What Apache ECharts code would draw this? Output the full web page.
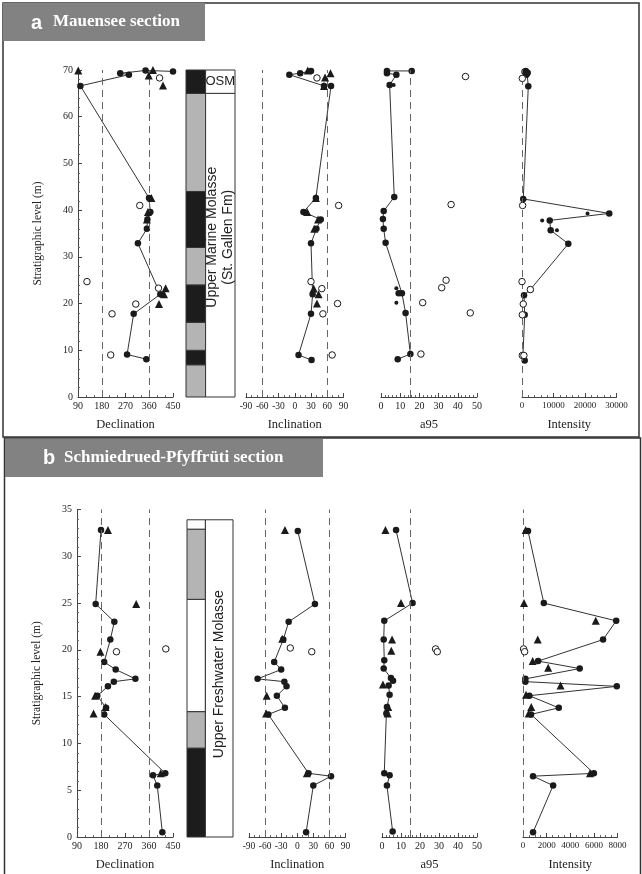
<!DOCTYPE html>
<html><head><meta charset="utf-8">
<script src="https://cdn.jsdelivr.net/npm/echarts@6/dist/echarts.min.js"></script>
<style>html,body{margin:0;padding:0;background:#fff}#c{width:642px;height:874px}</style>
</head><body><div id="c"></div><script>
// ---------- Panel a : Mauensee section ----------
const aDecLine = [[349,8.1],[276,9.1],[301,17.8],[402,22.0],[317,32.9],[351,36.0],[353,38.0],[364,39.6],[359,42.6],[99,66.6],[283,69.0],[250,69.3],[346,69.9],[450,69.7]];
const aDecTri = [[91,69.9],[374,70.0],[358,68.8],[412,66.7],[368,42.6],[355,39.6],[351,38.0],[422,23.3],[416,22.0],[397,19.9]];
const aDecOpen = [[399,68.3],[324,41.0],[124,24.7],[395,23.3],[309,19.9],[219,17.8],[214,9.0]];

const aIncLine = [[31,7.9],[7,9.0],[30,17.8],[33,22.0],[30,32.9],[40,36.0],[48,38.0],[16,39.6],[39,42.6],[67,66.6],[54,66.6],[-10,69.0],[10,69.3],[30,69.8]];
const aIncTri = [[35,23.2],[44,22.0],[41,20.0],[36,36.0],[43,38.0],[23,39.6],[39,42.6],[54,66.6],[66,69.3],[56,68.4],[24,69.9]];
const aIncOpen = [[41,68.3],[81,41.0],[30,24.7],[50,23.2],[79,20.0],[52,17.8],[69,9.0]];

const aA95Line = [[8.7,8.1],[15.3,9.2],[12.8,18.0],[10.9,22.2],[2.4,33.0],[1.4,36.0],[1.0,38.1],[1.4,39.8],[6.9,42.8],[4.5,66.8],[8.0,69.0],[3.1,69.3],[3.1,69.8],[16.0,69.8]];
const aA95Extra = [[9.2,22.2]];
const aA95Small = [[8.0,23.3],[8.0,20.2],[6.6,66.8]];
const aA95Open = [[44,68.6],[36.5,41.2],[33.9,25.0],[31.6,23.4],[21.7,20.2],[46.5,18.0],[20.8,9.2]];

const aIntLine = [[850,7.8],[300,8.9],[850,17.6],[640,21.8],[2650,23.0],[14700,32.8],[9100,35.7],[8800,37.8],[27700,39.3],[400,42.4],[2000,66.5],[1600,69.3],[1200,69.8]];
const aIntExtra = [[800,69.6],[1400,69.0],[1800,69.4]];
const aIntSmall = [[20800,39.3],[6400,37.8],[11100,35.7]];
const aIntOpen = [[2650,23.0],[0,24.7],[200,41.0],[400,19.9],[100,17.6],[100,8.9],[600,8.9],[100,68.2]];

const aColEdges = [0,6.9,10,16,24,32,44,65,70];
const aColFill = ['g','k','g','k','g','k','g','k'];
const aBoxEdges = [0,65,70];

// ---------- Panel b : Schmiedrued-Pfyffrüti section ----------
const bDecLine = [[410,0.5],[391,5.5],[375,6.6],[421,6.8],[192,13.1],[199,13.8],[166,15.1],[206,16.1],[228,16.6],[309,16.9],[235,17.9],[192,18.7],[215,21.1],[230,23.0],[160,24.9],[180,32.8]];
const bDecTri = [[206,32.8],[312,24.9],[178,19.8],[158,15.1],[152,13.2],[404,6.8],[197,13.9]];
const bDecOpen = [[238,19.8],[423,20.1]];

const bIncLine = [[16.5,0.5],[30,5.5],[63,6.5],[21,6.8],[-54,13.1],[-23,13.8],[-38,15.1],[-20,16.1],[-24,16.6],[-74,16.9],[-30,17.9],[-43,18.7],[-26,21.1],[-16,23.0],[33,24.9],[1,32.7]];
const bIncTri = [[-23,32.8],[-58,13.2],[-57,15.1],[18,6.8],[-28,21.2]];
const bIncOpen = [[-13,20.2],[27,19.8]];

const bA95Line = [[5.6,0.6],[2.6,5.5],[4.0,6.6],[1.2,6.8],[2.3,13.2],[2.6,13.9],[4.0,15.2],[3.5,16.2],[5.8,16.7],[4.7,17.0],[0.9,18.0],[1.2,18.9],[0.9,21.1],[1.2,23.1],[16.1,25.0],[7.4,32.8]];
const bA95Tri = [[1.8,32.8],[10.0,25.0],[5.3,21.1],[4.9,19.9],[0.5,16.3],[3.3,13.9],[3.0,13.2]];
const bA95Open = [[28.2,20.1],[29.1,19.8]];

const bIntLine = [[850,0.5],[2550,5.5],[850,6.5],[6000,6.8],[680,13.1],[3030,13.8],[540,15.1],[7940,16.1],[200,16.6],[200,16.9],[4800,18.0],[1280,18.8],[6780,21.1],[7890,23.1],[1760,25.0],[425,32.7]];
const bIntTri = [[5670,6.8],[480,13.2],[700,13.9],[255,15.2],[3180,16.2],[2130,18.1],[820,18.8],[1250,21.1],[6160,23.1],[85,25.0],[230,32.8]];
const bIntOpen = [[50,20.1],[140,19.8]];

const bColEdges = [0,9.5,13.4,25.4,32.9,33.9];
const bColFill = ['k','g','w','g','w'];
const bBoxEdges = [0,33.9];

// tick / reference values
const decTicks = {min:90,max:450,interval:90}, decRef = [180,360];
const incTicks = {min:-90,max:90,interval:30}, incRef = [-60,60];
const a95Ticks = {min:0,max:50,interval:10}, a95Ref = [15];
const aIntTicks = {min:0,max:30000,interval:10000}, bIntTicks = {min:0,max:8000,interval:2000}, intRef = [0];
const aLevel = {min:0,max:70,interval:10}, bLevel = {min:0,max:35,interval:5};

// ---------- chart ----------
const SERIF = 'Liberation Serif', SANS = 'Liberation Sans';
const INK = '#1a1a1a';
const grids = [
  {left:78, top:70, width:95, height:327},    //0 a dec
  {left:186, top:70, width:49, height:327},   //1 a col
  {left:246, top:70, width:97.5, height:327}, //2 a inc
  {left:381, top:70, width:96, height:327},   //3 a a95
  {left:522, top:70, width:94.5, height:327}, //4 a int
  {left:77, top:509.5, width:96, height:327.5},   //5 b dec
  {left:187, top:509.5, width:46, height:327.5},  //6 b col
  {left:249, top:509.5, width:96.5, height:327.5},//7 b inc
  {left:382, top:509.5, width:95, height:327.5},  //8 b a95
  {left:523, top:509.5, width:94.5, height:327.5} //9 b int
];
function xAx(gi, t, minor, name, fs){
  return {gridIndex:gi, type:'value', min:t.min, max:t.max, interval:t.interval,
    name:name, nameLocation:'middle', nameGap:21,
    nameTextStyle:{fontFamily:SERIF,fontSize:12.5,color:'#222'},
    axisLine:{show:true,onZero:false,lineStyle:{color:'#444',width:1}},
    axisTick:{show:true,inside:true,length:4,lineStyle:{color:'#444'}},
    minorTick:{show:true,splitNumber:minor,length:2,lineStyle:{color:'#666'}},
    axisLabel:{fontFamily:SERIF,fontSize:fs||10,color:'#222',margin:4,showMinLabel:true,showMaxLabel:true,hideOverlap:false,
      formatter:function(v){return String(v);}},
    splitLine:{show:false}};
}
function hiddenX(gi){return {gridIndex:gi,type:'value',min:0,max:1,show:false};}
function yAx(gi, t, visible){
  return {gridIndex:gi, type:'value', min:t.min, max:t.max, interval:t.interval, show:visible,
    name: visible ? 'Stratigraphic level (m)' : '', nameLocation:'middle', nameGap:34,
    nameTextStyle:{fontFamily:SERIF,fontSize:11.5,color:'#222'},
    axisLine:{show:true,onZero:false,lineStyle:{color:'#444'}},
    axisTick:{show:true,inside:true,length:4,lineStyle:{color:'#444'}},
    minorTick:{show:true,splitNumber:5,length:2,lineStyle:{color:'#666'}},
    axisLabel:{fontFamily:SERIF,fontSize:10,color:'#222',margin:5},
    splitLine:{show:false}};
}
const xAxis = [
  xAx(0,decTicks,3,'Declination'), hiddenX(1), xAx(2,incTicks,3,'Inclination',9.5), xAx(3,a95Ticks,5,'a95'), xAx(4,aIntTicks,5,'Intensity',9),
  xAx(5,decTicks,3,'Declination'), hiddenX(6), xAx(7,incTicks,3,'Inclination',9.5), xAx(8,a95Ticks,5,'a95'), xAx(9,bIntTicks,4,'Intensity',9)
];
const yAxis = [];
for (let i=0;i<10;i++){ yAxis.push(yAx(i, i<5?aLevel:bLevel, i===0||i===5)); }

const series = [];
function dashed(vals){
  return {silent:true, symbol:'none', label:{show:false},
    lineStyle:{type:[7,5],color:'#666',width:1}, data: vals.map(v=>({xAxis:v}))};
}
function sc(gi, data, symbol, size, style, z){
  return {type:'scatter', xAxisIndex:gi, yAxisIndex:gi, data, symbol, symbolSize:size,
    itemStyle:Object.assign({opacity:1}, style), z, silent:true};
}
function addPanel(gi, line, tri, open, small, extra, refs){
  series.push({type:'line', xAxisIndex:gi, yAxisIndex:gi, data:line, symbol:'circle', symbolSize:6.5,
    showAllSymbol:true, itemStyle:{color:INK, opacity:1}, lineStyle:{color:'#333',width:1}, z:3, silent:true,
    markLine: dashed(refs)});
  if (extra && extra.length) series.push(sc(gi, extra, 'circle', 6.5, {color:INK}, 4));
  if (tri && tri.length) series.push(sc(gi, tri, 'triangle', 8, {color:INK}, 5));
  if (small && small.length) series.push(sc(gi, small, 'circle', 4, {color:INK}, 5));
  if (open && open.length) series.push(sc(gi, open, 'circle', 6.5, {color:'#fff',borderColor:INK,borderWidth:1}, 6));
}
addPanel(0, aDecLine, aDecTri, aDecOpen, [], [], decRef);
addPanel(2, aIncLine, aIncTri, aIncOpen, [], [], incRef);
addPanel(3, aA95Line, [], aA95Open, aA95Small, aA95Extra, a95Ref);
addPanel(4, aIntLine, [], aIntOpen, aIntSmall, aIntExtra, intRef);
addPanel(5, bDecLine, bDecTri, bDecOpen, [], [], decRef);
addPanel(7, bIncLine, bIncTri, bIncOpen, [], [], incRef);
addPanel(8, bA95Line, bA95Tri, bA95Open, [], [], a95Ref);
addPanel(9, bIntLine, bIntTri, bIntOpen, [], [], intRef);

// stratigraphic columns
const FILL = {k:'#1c1c1c', g:'#b4b4b4', w:'#ffffff'};
function colData(edges, fills){ const d=[]; for(let i=0;i<fills.length;i++) d.push([edges[i],edges[i+1],i]); return d; }
function stripSeries(gi, edges, fills){
  return {type:'custom', xAxisIndex:gi, yAxisIndex:gi, data:colData(edges,fills), z:2, silent:true,
    renderItem:function(p, api){
      const b=api.value(0), t=api.value(1), f=fills[api.value(2)];
      const p0=api.coord([0,b]), p1=api.coord([0.4,t]);
      return {type:'rect', shape:{x:p0[0], y:p1[1], width:p1[0]-p0[0], height:p0[1]-p1[1]},
        style:{fill:FILL[f], stroke:'#333', lineWidth:1}};
    }};
}
function boxSeries(gi, edges, labels){
  const d=[]; for(let i=0;i<edges.length-1;i++) d.push([edges[i],edges[i+1],i]);
  return {type:'custom', xAxisIndex:gi, yAxisIndex:gi, data:d, z:2, silent:true,
    renderItem:function(p, api){
      const b=api.value(0), t=api.value(1), L=labels[api.value(2)];
      const p0=api.coord([0.4,b]), p1=api.coord([1,t]);
      const children=[{type:'rect', shape:{x:p0[0], y:p1[1], width:p1[0]-p0[0], height:p0[1]-p1[1]},
        style:{fill:'#fff', stroke:'#333', lineWidth:1}}];
      if (L){
        const c=api.coord([0.7, L.at]);
        children.push({type:'text', x:c[0], y:c[1], rotation:L.rot?Math.PI/2:0,
          style:{text:L.text, fontFamily:SANS, fontSize:L.size, fill:'#222', align:'center', verticalAlign:'middle', lineHeight:L.size+2}});
      }
      return {type:'group', children};
    }};
}
series.push(stripSeries(1, aColEdges, aColFill));
series.push(boxSeries(1, aBoxEdges, [{text:'Upper Marine Molasse\n(St. Gallen Fm)', at:34.2, rot:true, size:14},{text:'OSM', at:67.5, rot:false, size:13}]));
series.push(stripSeries(6, bColEdges, bColFill));
series.push(boxSeries(6, bBoxEdges, [{text:'Upper Freshwater Molasse', at:17.4, rot:true, size:14}]));

const graphic = [
  {type:'rect', shape:{x:3,y:3,width:636,height:434}, style:{fill:'none',stroke:'#333',lineWidth:1.5}, z:0},
  {type:'rect', shape:{x:4.5,y:438,width:636,height:440}, style:{fill:'none',stroke:'#333',lineWidth:1.5}, z:0},
  {type:'rect', shape:{x:3,y:3,width:202,height:38}, style:{fill:'#828282'}, z:1},
  {type:'text', x:31, y:23, style:{text:'a', fontFamily:SANS, fontWeight:'bold', fontSize:20, fill:'#fff', verticalAlign:'middle'}, z:2},
  {type:'text', x:53, y:22, style:{text:'Mauensee section', fontFamily:SERIF, fontWeight:'bold', fontSize:17, fill:'#fff', verticalAlign:'middle'}, z:2},
  {type:'rect', shape:{x:5,y:439,width:318,height:38}, style:{fill:'#828282'}, z:1},
  {type:'text', x:43, y:458, style:{text:'b', fontFamily:SANS, fontWeight:'bold', fontSize:20, fill:'#fff', verticalAlign:'middle'}, z:2},
  {type:'text', x:64, y:458, style:{text:'Schmiedrued-Pfyffrüti section', fontFamily:SERIF, fontWeight:'bold', fontSize:17, fill:'#fff', verticalAlign:'middle'}, z:2}
];

const chart = echarts.init(document.getElementById('c'), null, {renderer:'canvas'});
chart.setOption({animation:false, backgroundColor:'#fff', grid:grids, xAxis, yAxis, series, graphic});
</script></body></html>
